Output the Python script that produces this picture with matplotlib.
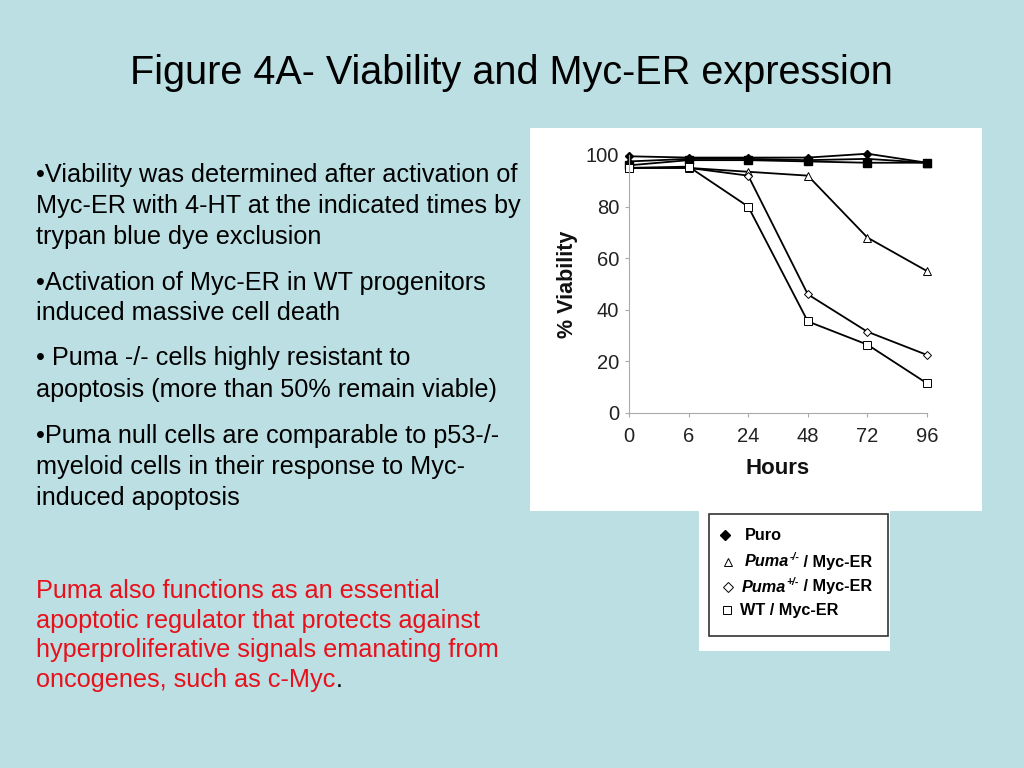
import matplotlib
matplotlib.use("Agg")
import matplotlib.pyplot as plt
from matplotlib.patches import Rectangle
from matplotlib import font_manager

hours = ["0", "6", "24", "48", "72", "96"]
yticks = [0, 20, 40, 60, 80, 100]

puro_diamond = [99.5, 99, 99, 99, 100.5, 97]
puro_triangle = [97.5, 98.5, 98.5, 98, 98.5, 97]
puro_square = [96, 98, 98, 97.5, 97, 97]
puma_ko = [95, 95, 93.5, 92, 68, 55]
puma_het = [95, 95, 92, 46, 31.5, 22.5]
wt = [95, 95.5, 80, 35.5, 26.5, 11.5]

title = "Figure 4A- Viability and Myc-ER expression"
bullets = [
    ["\u2022Viability was determined after activation of",
     "Myc-ER with 4-HT at the indicated times by",
     "trypan blue dye exclusion"],
    ["\u2022Activation of Myc-ER in WT progenitors",
     "induced massive cell death"],
    ["\u2022 Puma -/- cells highly resistant to",
     "apoptosis (more than 50% remain viable)"],
    ["\u2022Puma null cells are comparable to p53-/-",
     "myeloid cells in their response to Myc-",
     "induced apoptosis"],
]
red_lines = ["Puma also functions as an essential",
             "apoptotic regulator that protects against",
             "hyperproliferative signals emanating from",
             "oncogenes, such as c-Myc"]

BG = "#BCDFE3"
W, H = 1024, 768
fig = plt.figure(figsize=(10.24, 7.68), dpi=100, facecolor=BG)

def fx(x): return x / W
def fy(y): return 1 - y / H

names = {f.name for f in font_manager.fontManager.ttflist}
body_font = ["Liberation Sans", "DejaVu Sans"]

# Title
if "Liberation Sans Narrow" in names:
    fig.text(fx(511), fy(73), title, ha="center", va="center", fontsize=29,
             family=["Liberation Sans Narrow", "DejaVu Sans"])
else:
    fig.text(fx(511), fy(73), title, ha="center", va="center", fontsize=28.5,
             family=body_font)

# Bullets
FS = 18.2
line_ys = [[175, 206, 237], [283, 313], [358, 390], [436, 467, 498]]
for para, ys in zip(bullets, line_ys):
    for line, y in zip(para, ys):
        fig.text(fx(36), fy(y), line, ha="left", va="center", fontsize=FS,
                 family=body_font, color="black")
t = None
for line, y in zip(red_lines, [591, 621, 650, 680]):
    t = fig.text(fx(36), fy(y), line, ha="left", va="center", fontsize=FS,
                 family=body_font, color="#E8101A")
dot = matplotlib.text.Annotation(".", xy=(1, 0.5), xycoords=t, ha="left", va="center",
                                 fontsize=FS, family=body_font, color="black")
dot.set_figure(fig)
fig.texts.append(dot)

# White panels
for (x0, y0, x1, y1) in [(530, 128, 982, 511), (699, 511, 890, 651)]:
    fig.patches.append(Rectangle((fx(x0), fy(y1)), fx(x1 - x0), fy(y0) - fy(y1),
                                 transform=fig.transFigure, facecolor="white",
                                 edgecolor="none", zorder=-2))
fig.patches.append(Rectangle((fx(709), fy(636)), fx(888 - 709), fy(514) - fy(636),
                             transform=fig.transFigure, facecolor="none",
                             edgecolor="#333333", linewidth=1.2, zorder=-1))

# Chart axes
ax = fig.add_axes([fx(629), fy(413), fx(927 - 629), fy(155) - fy(413)])
ax.set_facecolor("none")
x = list(range(len(hours)))
kw = dict(color="black", linewidth=1.3, clip_on=False)
ax.plot(x, puro_square, marker="s", markersize=5.5, markerfacecolor="black", **kw)
ax.plot(x, puro_triangle, marker="^", markersize=5.5, markerfacecolor="black", **kw)
ax.plot(x, puro_diamond, marker="D", markersize=4.5, markerfacecolor="black", **kw)
ax.plot(x, puma_ko, marker="^", markersize=6, markerfacecolor="white",
        markeredgewidth=0.7, **kw)
ax.plot(x, puma_het, marker="D", markersize=4.5, markerfacecolor="white",
        markeredgewidth=0.7, **kw)
ax.plot(x, wt, marker="s", markersize=5.5, markerfacecolor="white",
        markeredgewidth=0.7, **kw)

ax.set_xlim(0, 5)
ax.set_ylim(0, 100)
ax.set_xticks(x)
ax.set_xticklabels(hours)
ax.set_yticks(yticks)
for s in ["top", "right"]:
    ax.spines[s].set_visible(False)
for s in ["left", "bottom"]:
    ax.spines[s].set_color("#aaaaaa")
    ax.spines[s].set_linewidth(0.8)
ax.tick_params(axis="both", colors="#aaaaaa", labelcolor="#222222",
               labelsize=14.5, length=3, width=0.8)
for lab in ax.get_xticklabels() + ax.get_yticklabels():
    lab.set_family(body_font)
ax.tick_params(axis="x", pad=7)
ax.tick_params(axis="y", pad=4)
ax.set_xlabel("Hours", fontsize=16, fontweight="bold", family=body_font,
              labelpad=9, color="#111111")
ax.set_ylabel("% Viability", fontsize=15.5, fontweight="bold", family=body_font,
              labelpad=6, color="#111111")

# Legend
lax = fig.add_axes([0, 0, 1, 1], facecolor="none")
lax.set_xlim(0, W)
lax.set_ylim(H, 0)
lax.axis("off")
lax.plot([725], [535], marker="D", markersize=5, color="black", linestyle="none")
lax.plot([728], [562], marker="^", markersize=6, markerfacecolor="white",
         markeredgecolor="black", markeredgewidth=0.7, linestyle="none")
lax.plot([728], [587], marker="D", markersize=5, markerfacecolor="white",
         markeredgecolor="black", markeredgewidth=0.7, linestyle="none")
lax.plot([727], [610], marker="s", markersize=6, markerfacecolor="white",
         markeredgecolor="black", markeredgewidth=0.7, linestyle="none")
LF = 11.7
lf = dict(fontsize=LF, fontweight="bold", family=body_font, va="center")
lax.text(745, 535, "Puro", ha="left", **lf)
for y, sup, xs in [(562, "-/-", 745), (587, "+/-", 742)]:
    p = lax.text(xs, y, "Puma", ha="left", style="italic", **lf)
    s = lax.annotate(sup, xy=(1, 0.85), xycoords=p, ha="left", va="center",
                     fontsize=7.5, fontweight="bold", style="italic",
                     family=body_font)
    lax.annotate(" / Myc-ER", xy=(1, 0.5), xycoords=(s, p), ha="left",
                 va="center", fontsize=LF, fontweight="bold", family=body_font)
lax.text(740, 610, "WT / Myc-ER", ha="left", **lf)

fig.savefig("out.png", dpi=100, facecolor=BG)
